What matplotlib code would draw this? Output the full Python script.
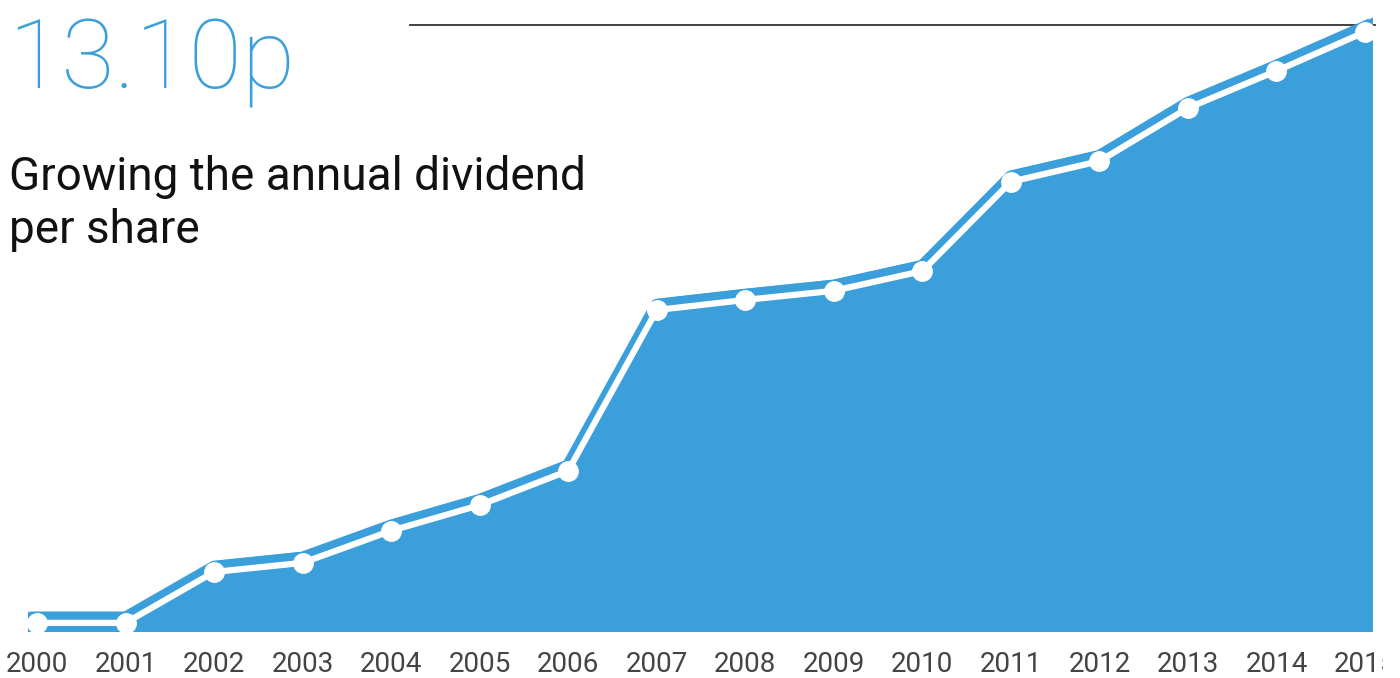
import matplotlib
matplotlib.use("Agg")
import matplotlib.pyplot as plt
import matplotlib.transforms as mtransforms
from matplotlib.lines import Line2D
import numpy as np

years = [2000, 2001, 2002, 2003, 2004, 2005, 2006, 2007,
         2008, 2009, 2010, 2011, 2012, 2013, 2014, 2015]
dividend_p = [0.20, 0.20, 1.31, 1.51, 2.21, 2.77, 3.52, 7.03,
              7.25, 7.45, 7.88, 9.83, 10.28, 11.44, 12.25, 13.10]
tick_labels = [str(y) for y in years]
headline = "13.10p"
subtitle_lines = ["Growing the annual dividend", "per share"]

BLUE = "#3b9fdc"
W, H = 1400, 678
fig = plt.figure(figsize=(W / 100, H / 100), dpi=100)

ax_left, ax_right, ax_bottom, ax_top = 28, 1373, 632, 0
ax = fig.add_axes([ax_left / W, 1 - ax_bottom / H,
                   (ax_right - ax_left) / W, (ax_bottom - ax_top) / H])

x = np.array(years, dtype=float)
v = np.array(dividend_p)
px_per_year = (1365 - 37) / 15.0
x0 = years[0] - 9 / px_per_year
x1 = years[-1] + 8 / px_per_year
ax.set_xlim(x0, x1)
ymax = v[-1] * 632 / 600.0
ax.set_ylim(0, ymax)

# filled area, shifted up slightly above the line
xf = np.concatenate([[x0], x, [x1]])
vf = np.concatenate([[v[0]], v, [v[-1] + (v[-1] - v[-2]) * (8 / px_per_year)]])
shift = mtransforms.ScaledTranslation(0, 11 / 100, fig.dpi_scale_trans)
ax.fill_between(xf, vf, -5, color=BLUE, linewidth=0,
                transform=ax.transData + shift, zorder=1)
# thicken the blue band on steep segments
shift2 = mtransforms.ScaledTranslation(0, 5 / 100, fig.dpi_scale_trans)
ax.plot(x, v, color=BLUE, linewidth=9, solid_joinstyle="round",
        transform=ax.transData + shift2, zorder=2)

ax.plot(x, v, color="white", linewidth=4.5, marker="o", markersize=14,
        markerfacecolor="white", markeredgecolor="white", zorder=3,
        solid_joinstyle="miter")

for s in ax.spines.values():
    s.set_visible(False)
ax.set_yticks([])
ax.set_xticks(years)
ax.set_xticklabels(tick_labels, fontsize=20, color="#444444", family="Roboto")
ax.tick_params(axis="x", length=0, pad=14)
ax.patch.set_alpha(0)

# clip tick labels at the right edge like the reference crop
for lbl in ax.get_xticklabels():
    lbl.set_clip_on(True)
    lbl.set_clip_box(mtransforms.TransformedBbox(
        mtransforms.Bbox.from_extents(0, 0, 1383 / W, 1), fig.transFigure))

# top reference line
fig.add_artist(Line2D([410 / W, 1375 / W], [1 - 25 / H, 1 - 25 / H],
                      color="#333333", linewidth=1.3, zorder=0))

fig.text(8 / W, 1 - 88 / H, headline, fontsize=70, color=BLUE,
         family="Roboto", fontweight="light", va="baseline", ha="left")
fig.text(9 / W, 1 - 190 / H, subtitle_lines[0], fontsize=33, color="#111111",
         family="Roboto", fontweight="normal", va="baseline", ha="left")
fig.text(9 / W, 1 - 243 / H, subtitle_lines[1], fontsize=33, color="#111111",
         family="Roboto", fontweight="normal", va="baseline", ha="left")

fig.savefig("out.png", dpi=100)
